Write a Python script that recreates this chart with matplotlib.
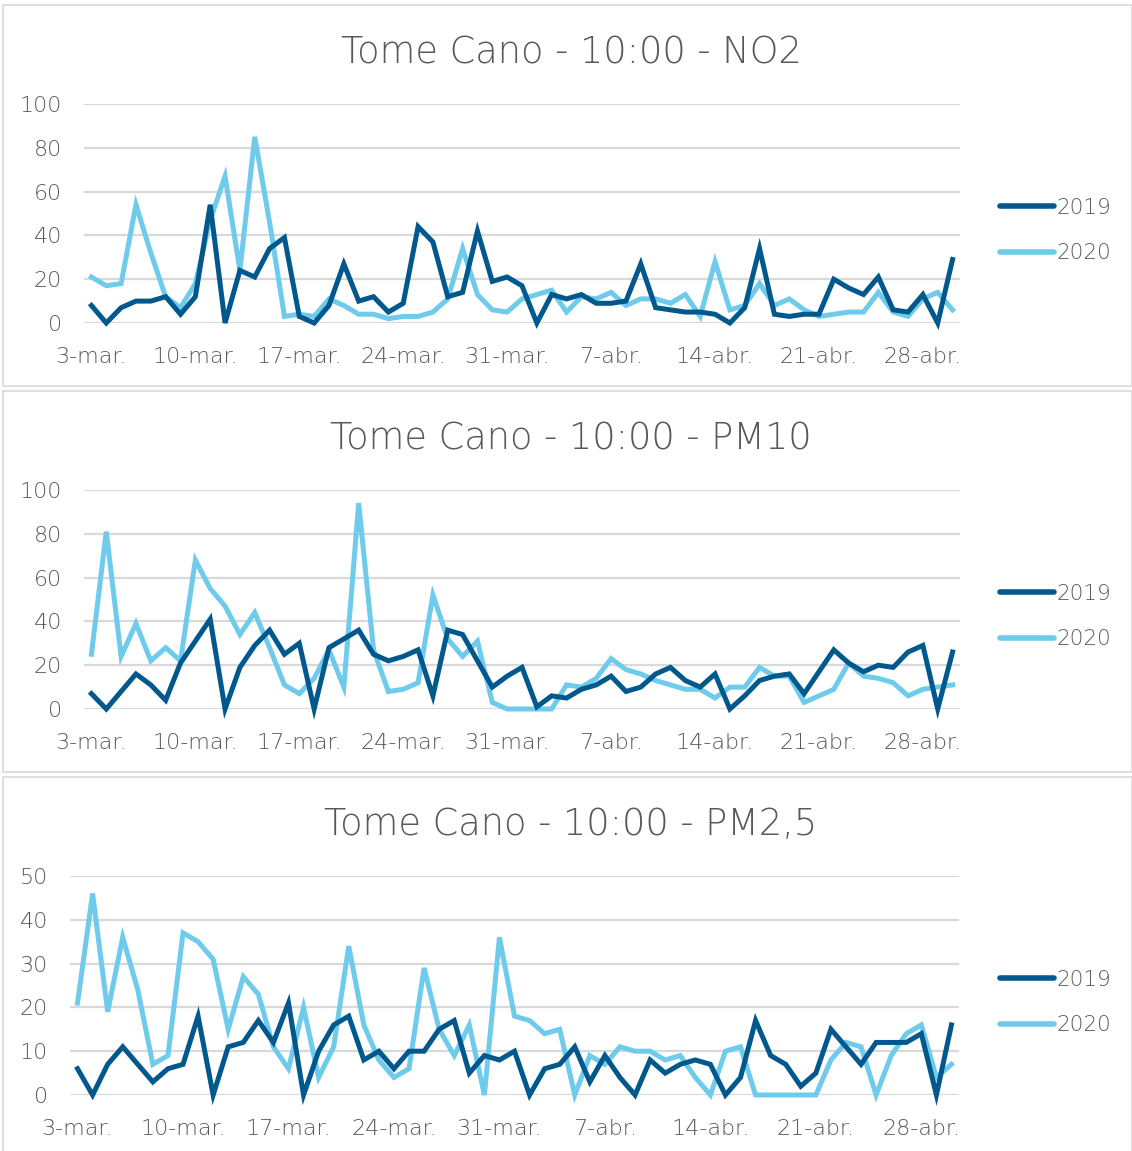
import matplotlib
matplotlib.use("Agg")
import matplotlib.pyplot as plt
from matplotlib.patches import Rectangle
import numpy as np

# ---- data ----
days = list(range(59))  # 3-mar .. 30-abr
tick_pos = [0, 7, 14, 21, 28, 35, 42, 49, 56]
tick_labels = ["3-mar.", "10-mar.", "17-mar.", "24-mar.", "31-mar.",
               "7-abr.", "14-abr.", "21-abr.", "28-abr."]

no2_2019 = [8, 0, 7, 10, 10, 12, 4, 12, 54, 0, 24, 21, 34, 39, 3, 0, 8, 27, 10, 12,
            5, 9, 44, 37, 12, 14, 42, 19, 21, 17, 0, 13, 11, 13, 9, 9, 10, 27, 7, 6,
            5, 5, 4, 0, 7, 34, 4, 3, 4, 4, 20, 16, 13, 21, 6, 5, 13, 0, 29]
no2_2020 = [21, 17, 18, 54, 32, 12, 7, 18, 47, 67, 24, 85, 46, 3, 4, 3, 11, 8, 4, 4,
            2, 3, 3, 5, 11, 34, 13, 6, 5, 11, 13, 15, 5, 12, 11, 14, 8, 11, 11, 9,
            13, 3, 28, 6, 8, 18, 8, 11, 6, 3, 4, 5, 5, 14, 5, 3, 11, 14, 6]

pm10_2019 = [7, 0, 8, 16, 11, 4, 21, 31, 41, 0, 19, 29, 36, 25, 30, 0, 28, 32, 36, 25,
             22, 24, 27, 6, 36, 34, 22, 10, 15, 19, 1, 6, 5, 9, 11, 15, 8, 10, 16, 19,
             13, 10, 16, 0, 6, 13, 15, 16, 7, 17, 27, 21, 17, 20, 19, 26, 29, 0, 26]
pm10_2020 = [25, 81, 24, 39, 22, 28, 22, 68, 55, 47, 34, 44, 28, 11, 7, 14, 27, 10, 94, 27,
             8, 9, 12, 52, 32, 24, 31, 3, 0, 0, 0, 0, 11, 10, 14, 23, 18, 16, 13, 11,
             9, 9, 5, 10, 10, 19, 15, 15, 3, 6, 9, 21, 15, 14, 12, 6, 9, 10, 11]

pm25_2019 = [6, 0, 7, 11, 7, 3, 6, 7, 18, 0, 11, 12, 17, 12, 21, 0, 10, 16, 18, 8,
             10, 6, 10, 10, 15, 17, 5, 9, 8, 10, 0, 6, 7, 11, 3, 9, 4, 0, 8, 5,
             7, 8, 7, 0, 4, 17, 9, 7, 2, 5, 15, 11, 7, 12, 12, 12, 14, 0, 16]
pm25_2020 = [21, 46, 19, 36, 24, 7, 9, 37, 35, 31, 15, 27, 23, 11, 6, 20, 4, 11, 34, 16,
             8, 4, 6, 29, 15, 9, 16, 0, 36, 18, 17, 14, 15, 0, 9, 7, 11, 10, 10, 8,
             9, 4, 0, 10, 11, 0, 0, 0, 0, 0, 8, 12, 11, 0, 9, 14, 16, 4, 7]

titles = ["Tome Cano - 10:00 - NO2", "Tome Cano - 10:00 - PM10", "Tome Cano - 10:00 - PM2,5"]
series = [(no2_2019, no2_2020), (pm10_2019, pm10_2020), (pm25_2019, pm25_2020)]
ymax = [100, 100, 50]
ystep = [20, 20, 10]

# ---- style ----
DARK = "#00588c"
LIGHT = "#6ecbeb"
GRID = "#d9d9d9"
TEXT = "#595959"
plt.rcParams['font.family'] = ['DejaVu Sans']
plt.rcParams['font.weight'] = 200

W, H = 1132, 1151
fig = plt.figure(figsize=(W / 100, H / 100), dpi=100)

# panel geometry in pixels: (left, right, top, bottom) of the plot area
plot_boxes = [(84, 960, 104, 323), (84, 960, 490, 709), (70, 959, 876, 1095)]
panel_frames = [(3, 5, 1132, 386), (3, 391, 1132, 772), (3, 777, 1132, 1152)]
title_y = [52, 438, 824]
legend_y = [230.5, 616.5, 1002.5]

for i in range(3):
    fx0, fy0, fx1, fy1 = panel_frames[i]
    fig.patches.append(Rectangle((fx0 / W, 1 - fy1 / H), (fx1 - fx0) / W, (fy1 - fy0) / H,
                                 transform=fig.transFigure, fill=False,
                                 edgecolor=GRID, linewidth=1.2))
    l, r, t, b = plot_boxes[i]
    ax = fig.add_axes([l / W, 1 - b / H, (r - l) / W, (b - t) / H])
    s19, s20 = series[i]
    ax.plot(days, s19, color=DARK, lw=3.6, solid_joinstyle='miter', clip_on=False,
            label="2019", zorder=3)
    ax.plot(days, s20, color=LIGHT, lw=3.6, solid_joinstyle='miter', clip_on=False,
            label="2020", zorder=2)
    ax.set_xlim(-0.5, 58.5)
    ax.set_ylim(0, ymax[i])
    ax.set_yticks(np.arange(0, ymax[i] + 1, ystep[i]))
    ax.set_xticks(tick_pos)
    ax.set_xticklabels(tick_labels)
    for sp in ax.spines.values():
        sp.set_visible(False)
    ax.yaxis.grid(True, color=GRID, lw=1.6)
    ax.set_axisbelow(True)
    ax.tick_params(axis='both', length=0, labelsize=16, labelcolor=TEXT)
    ax.tick_params(axis='y', pad=16)
    ax.tick_params(axis='x', pad=17)
    fig.text(571 / W, 1 - title_y[i] / H, titles[i], ha='center', va='center',
             fontsize=26.5, color=TEXT, fontweight=200)
    leg = ax.legend(loc='center left', bbox_to_anchor=(1000 / W, 1 - legend_y[i] / H),
                    bbox_transform=fig.transFigure, frameon=False, fontsize=15.5,
                    handlelength=2.5, handletextpad=0.12, labelspacing=1.2,
                    borderpad=0, borderaxespad=0, labelcolor=TEXT)
    for h in leg.get_lines():
        h.set_linewidth(4)
        h.set_solid_capstyle('round')

fig.savefig("out.png", dpi=100)
